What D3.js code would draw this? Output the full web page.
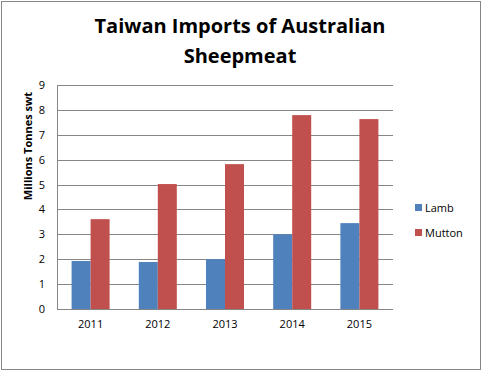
<!DOCTYPE html>
<html>
<head>
<meta charset="utf-8">
<script src="https://cdn.jsdelivr.net/npm/d3@7"></script>
<style>
  body { margin: 0; background: #fff; }
  text { font-family: "Open Sans", "Liberation Sans", sans-serif; fill: #000; }
</style>
</head>
<body>
<div id="chart"></div>
<script>
// chart values
const years = ["2011", "2012", "2013", "2014", "2015"];
const seriesNames = ["Lamb", "Mutton"];
const lamb = [1.93, 1.89, 2.0, 3.0, 3.45];
const mutton = [3.61, 5.02, 5.82, 7.79, 7.63];
const yTicks = [0, 1, 2, 3, 4, 5, 6, 7, 8, 9];

const colors = ["#4f81bd", "#c0504d"];

const svgWidth = 498;
const svgHeight = 386;

const margin = { top: 85, right: 105, bottom: 77, left: 57 };
const width = 393 - margin.left;
const height = 309 - margin.top;

const svg = d3.select("#chart")
  .append("svg")
  .attr("width", svgWidth)
  .attr("height", svgHeight);

// outer border of the chart area
svg.append("rect")
  .attr("x", 1.5)
  .attr("y", 1.5)
  .attr("width", 479)
  .attr("height", 368)
  .attr("fill", "#fff")
  .attr("stroke", "#868686")
  .attr("stroke-width", 1);

// title
const title = svg.append("text")
  .attr("text-anchor", "middle")
  .style("font-size", "20px")
  .style("font-weight", "bold");
title.append("tspan").attr("x", 240).attr("y", 33).text("Taiwan Imports of Australian");
title.append("tspan").attr("x", 240).attr("y", 63).text("Sheepmeat");

const chartGroup = svg.append("g")
  .attr("transform", `translate(${margin.left}, ${margin.top})`);

const x0 = d3.scaleBand()
  .domain(years)
  .range([0, width]);

const x1 = d3.scaleBand()
  .domain(seriesNames)
  .range([0, 38]);

const y = d3.scaleLinear()
  .domain([0, 9])
  .range([height, 0]);

// gridlines
chartGroup.append("g")
  .selectAll("line")
  .data(yTicks)
  .enter()
  .append("line")
  .attr("x1", 0)
  .attr("x2", width)
  .attr("y1", d => Math.round(y(d)) + 0.5)
  .attr("y2", d => Math.round(y(d)) + 0.5)
  .attr("stroke", "#868686")
  .attr("stroke-width", 1);

// left axis
const leftAxis = d3.axisLeft(y).tickValues(yTicks).tickSize(0).tickPadding(12);
const yAxis = chartGroup.append("g").call(leftAxis);
yAxis.select(".domain").attr("stroke", "#868686").attr("d", `M0.5,0V${height}`);
yAxis.selectAll("text").style("font-size", "11px").style("font-family", "'Open Sans', sans-serif");

// bars
const data = years.map((yr, i) => ({ year: yr, values: [lamb[i], mutton[i]] }));

const groups = chartGroup.selectAll("g.year")
  .data(data)
  .enter()
  .append("g")
  .attr("class", "year")
  .attr("transform", d => `translate(${x0(d.year) + x0.bandwidth() / 2 - 19}, 0)`);

groups.selectAll("rect")
  .data(d => d.values.map((v, i) => ({ name: seriesNames[i], value: v, i: i })))
  .enter()
  .append("rect")
  .attr("x", d => x1(d.name))
  .attr("y", d => y(d.value))
  .attr("width", x1.bandwidth())
  .attr("height", d => height - y(d.value))
  .attr("fill", d => colors[d.i]);

// bottom axis
const bottomAxis = d3.axisBottom(x0).tickSize(0).tickPadding(11);
const xAxis = chartGroup.append("g")
  .attr("transform", `translate(0, ${height})`)
  .call(bottomAxis);
xAxis.select(".domain").attr("stroke", "#868686").attr("d", `M0,0.5H${width}`);
xAxis.selectAll("text").style("font-size", "11px").style("font-family", "'Open Sans', sans-serif");

// y axis title
svg.append("text")
  .attr("transform", "rotate(-90)")
  .attr("x", -146)
  .attr("y", 32)
  .attr("text-anchor", "middle")
  .style("font-size", "11px")
  .style("font-weight", "bold")
  .text("Millions Tonnes swt");

// legend
const legend = svg.append("g")
  .attr("transform", "translate(415, 204)");

const legendItems = legend.selectAll("g")
  .data(seriesNames)
  .enter()
  .append("g")
  .attr("transform", (d, i) => `translate(0, ${i * 25})`);

legendItems.append("rect")
  .attr("width", 7)
  .attr("height", 7)
  .attr("fill", (d, i) => colors[i]);

legendItems.append("text")
  .attr("x", 10)
  .attr("y", 8)
  .style("font-size", "11px")
  .text(d => d);
</script>
</body>
</html>
